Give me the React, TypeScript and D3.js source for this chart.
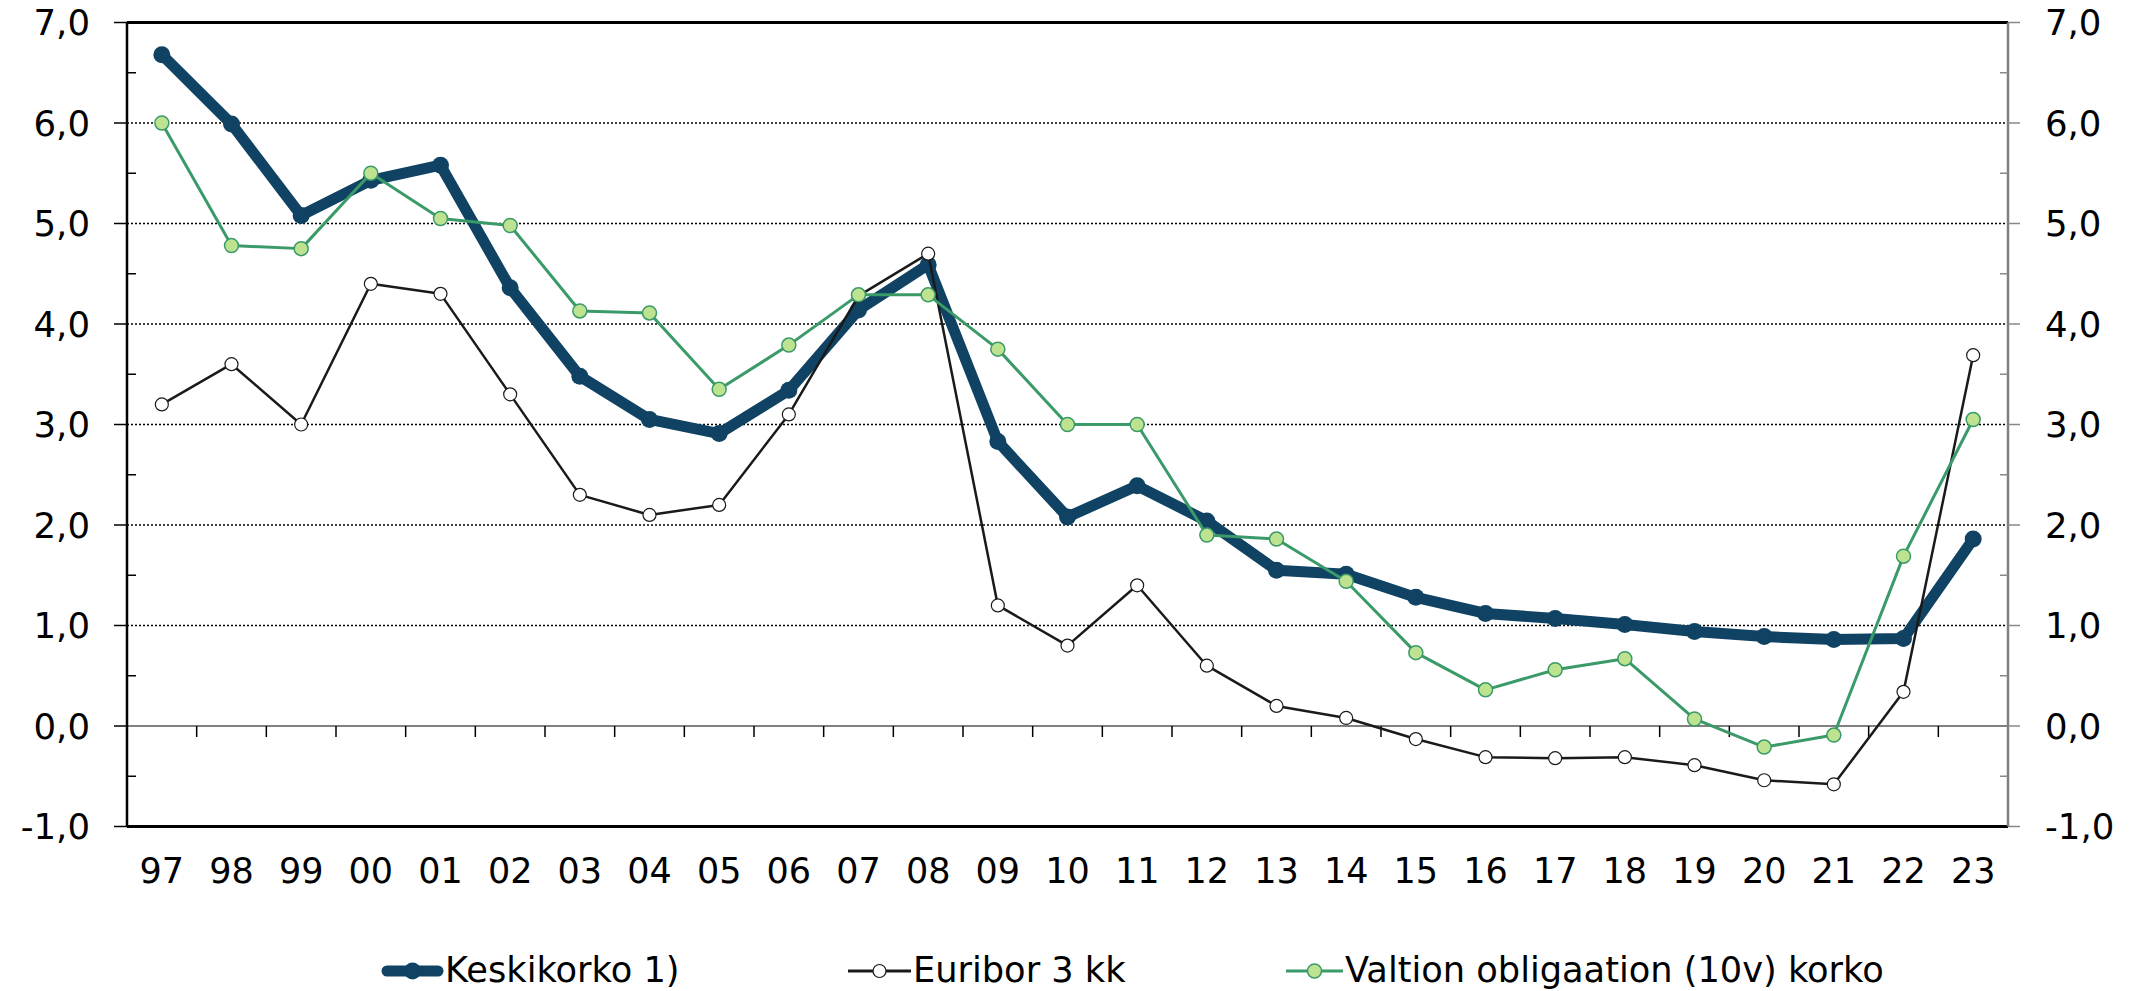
import * as d3 from 'd3';

const years = ['97', '98', '99', '00', '01', '02', '03', '04', '05', '06', '07', '08', '09', '10', '11', '12', '13', '14', '15', '16', '17', '18', '19', '20', '21', '22', '23'];

const keskikorko = [6.68, 5.99, 5.08, 5.43, 5.58, 4.36, 3.48, 3.05, 2.91, 3.34, 4.14, 4.59, 2.83, 2.08, 2.39, 2.04, 1.55, 1.51, 1.28, 1.12, 1.07, 1.01, 0.94, 0.89, 0.86, 0.87, 1.86];
const euribor = [3.2, 3.6, 3.0, 4.4, 4.3, 3.3, 2.3, 2.1, 2.2, 3.1, 4.28, 4.7, 1.2, 0.8, 1.4, 0.6, 0.2, 0.08, -0.13, -0.31, -0.32, -0.31, -0.39, -0.54, -0.58, 0.34, 3.69];
const valtion = [6.0, 4.78, 4.75, 5.5, 5.05, 4.98, 4.13, 4.11, 3.35, 3.79, 4.29, 4.29, 3.75, 3.0, 3.0, 1.9, 1.86, 1.44, 0.73, 0.36, 0.56, 0.67, 0.07, -0.21, -0.09, 1.69, 3.05];

const yTicks = [-1, 0, 1, 2, 3, 4, 5, 6, 7];
const yMinor = [-0.5, 0.5, 1.5, 2.5, 3.5, 4.5, 5.5, 6.5];

const legendItems = ['Keskikorko 1)', 'Euribor 3 kk', 'Valtion obligaation (10v) korko'];

const W = 2138;
const H = 991;
const left = 127;
const right = 2008;
const top = 22.5;
const bottom = 826.5;

const NAVY = '#0f4263';
const GREEN = '#3a9a68';
const GREEN_FILL = '#bde391';
const font = '"DejaVu Sans", Verdana, sans-serif';

export default function App() {
  const x = d3.scaleBand<string>().domain(years).range([left, right]).padding(0);
  const y = d3.scaleLinear().domain([-1, 7]).range([bottom, top]);
  const cx = (i: number) => (x(years[i]) as number) + x.bandwidth() / 2;

  const line = d3.line<number>().x((d, i) => cx(i)).y(d => y(d));
  const fmt = (v: number) => v.toFixed(1).replace('.', ',');

  const boundaries = years.map((yr) => (x(yr) as number) + x.bandwidth());

  const legendX = [382, 848, 1286];
  const legendW = [61, 63, 57];
  const legendY = 971;

  return (
    <svg width={W} height={H} style={{ position: 'absolute', left: 0, top: 0, background: '#fff' }} fontFamily={font}>
      {/* gridlines */}
      {yTicks.filter(t => t > 0 && t < 7).map(t => (
        <line key={t} x1={left} x2={right} y1={y(t)} y2={y(t)} stroke="#000" strokeWidth={1.6} strokeDasharray="2 2" />
      ))}
      {/* zero line */}
      <line x1={left} x2={right} y1={y(0)} y2={y(0)} stroke="#808080" strokeWidth={2} />
      {boundaries.map((b, i) => (
        <line key={i} x1={b} x2={b} y1={y(0)} y2={y(0) + 11} stroke="#000" strokeWidth={1.5} />
      ))}
      {/* frame */}
      <line x1={left} x2={right} y1={top} y2={top} stroke="#000" strokeWidth={3} />
      <line x1={left} x2={right} y1={bottom} y2={bottom} stroke="#000" strokeWidth={3} />
      <line x1={right} x2={right} y1={top} y2={bottom} stroke="#808080" strokeWidth={2.5} />
      <line x1={left} x2={left} y1={top} y2={bottom} stroke="#000" strokeWidth={2.5} />
      {/* y ticks */}
      {yTicks.map(t => (
        <g key={t}>
          <line x1={left - 13} x2={left} y1={y(t)} y2={y(t)} stroke="#000" strokeWidth={1.5} />
          <line x1={right} x2={right + 12} y1={y(t)} y2={y(t)} stroke="#888" strokeWidth={1.5} />
          <text x={90} y={y(t)} dy="0.36em" textAnchor="end" fontSize={35.5}>{fmt(t)}</text>
          <text x={2045} y={y(t)} dy="0.36em" textAnchor="start" fontSize={35.5}>{fmt(t)}</text>
        </g>
      ))}
      {yMinor.map(t => (
        <g key={t}>
          <line x1={left} x2={left + 9} y1={y(t)} y2={y(t)} stroke="#000" strokeWidth={1.5} />
          <line x1={right - 8} x2={right} y1={y(t)} y2={y(t)} stroke="#888" strokeWidth={1.5} />
        </g>
      ))}
      {/* x labels */}
      {years.map((yr, i) => (
        <text key={yr} x={cx(i)} y={883} textAnchor="middle" fontSize={35}>{yr}</text>
      ))}
      {/* series */}
      <path d={line(keskikorko) as string} fill="none" stroke={NAVY} strokeWidth={11} strokeLinejoin="round" />
      {keskikorko.map((v, i) => <circle key={i} cx={cx(i)} cy={y(v)} r={8.5} fill={NAVY} />)}
      <path d={line(euribor) as string} fill="none" stroke="#1a1a1a" strokeWidth={2.5} strokeLinejoin="round" />
      {euribor.map((v, i) => <circle key={i} cx={cx(i)} cy={y(v)} r={6.5} fill="#fff" stroke="#1a1a1a" strokeWidth={1.2} />)}
      <path d={line(valtion) as string} fill="none" stroke={GREEN} strokeWidth={3} strokeLinejoin="round" />
      {valtion.map((v, i) => <circle key={i} cx={cx(i)} cy={y(v)} r={7} fill={GREEN_FILL} stroke={GREEN} strokeWidth={1.5} />)}
      {/* legend */}
      {legendItems.map((label, i) => {
        const lx = legendX[i];
        const lw = legendW[i];
        const mid = lx + lw / 2;
        return (
          <g key={label}>
            {i === 0 && <>
              <line x1={lx + 5} x2={lx + lw - 5} y1={legendY} y2={legendY} stroke={NAVY} strokeWidth={11} strokeLinecap="round" />
              <circle cx={mid} cy={legendY} r={8.5} fill={NAVY} />
            </>}
            {i === 1 && <>
              <line x1={lx} x2={lx + lw} y1={legendY} y2={legendY} stroke="#1a1a1a" strokeWidth={3} />
              <circle cx={mid} cy={legendY} r={6.5} fill="#fff" stroke="#1a1a1a" strokeWidth={1.2} />
            </>}
            {i === 2 && <>
              <line x1={lx} x2={lx + lw} y1={legendY} y2={legendY} stroke={GREEN} strokeWidth={3} />
              <circle cx={mid} cy={legendY} r={7} fill={GREEN_FILL} stroke={GREEN} strokeWidth={1.5} />
            </>}
            <text x={lx + lw + 2} y={982} fontSize={35.2}>{label}</text>
          </g>
        );
      })}
    </svg>
  );
}
